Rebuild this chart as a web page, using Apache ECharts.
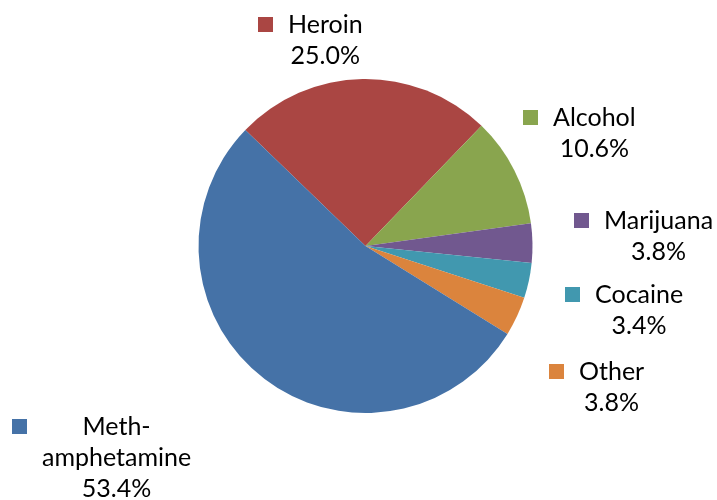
<!DOCTYPE html>
<html>
<head>
<meta charset="utf-8">
<script src="https://cdn.jsdelivr.net/npm/echarts@6/dist/echarts.min.js"></script>
<style>
html,body{margin:0;padding:0;background:#fff;}
#chart{width:717px;height:500px;}
</style>
</head>
<body>
<div id="chart"></div>
<script>
// Data (clockwise order starting from Heroin)
var categories = ['Heroin', 'Alcohol', 'Marijuana', 'Cocaine', 'Other', 'Meth-amphetamine'];
var percentValues = [25.0, 10.6, 3.8, 3.4, 3.8, 53.4];
var colors = ['#AA4643', '#89A54E', '#71588F', '#4198AF', '#DB843D', '#4572A7'];

// Label block anchor positions (top-left), styling only
var labelPos = [[258, 9], [523, 102], [574, 205], [565, 279], [549, 356], [12, 411]];

var rich = {
  g: { width: 15, align: 'left' },
  g2: { width: 30, align: 'left' },
  t: { fontSize: 25, lineHeight: 31, fontFamily: 'Lato', color: '#000', align: 'center' }
};
colors.forEach(function (c, i) {
  rich['sq' + i] = { width: 15, height: 15, backgroundColor: c, align: 'left' };
});

var chart = echarts.init(document.getElementById('chart'), null, { renderer: 'canvas' });
chart.setOption({
  animation: false,
  backgroundColor: '#fff',
  series: [{
    type: 'pie',
    center: [365.5, 246],
    radius: 167,
    startAngle: 136,
    clockwise: true,
    avoidLabelOverlap: false,
    emphasis: { disabled: true },
    itemStyle: { borderWidth: 0 },
    labelLine: { show: false },
    label: {
      show: true,
      position: 'outside',
      rich: rich,
      formatter: function (p) {
        var lines = p.name.replace(/-/, '-\n').split('\n');
        lines.push(p.value.toFixed(1) + '%');
        return lines.map(function (l, k) {
          return (k === 0 ? '{sq' + p.dataIndex + '|}{g|}' : '{g2|}') + '{t|' + l + '}';
        }).join('\n');
      }
    },
    labelLayout: function (params) {
      var pos = labelPos[params.dataIndex];
      return { x: pos[0], y: pos[1], align: 'left', verticalAlign: 'top' };
    },
    data: categories.map(function (n, i) {
      return { name: n, value: percentValues[i], itemStyle: { color: colors[i] } };
    })
  }]
});
</script>
</body>
</html>
